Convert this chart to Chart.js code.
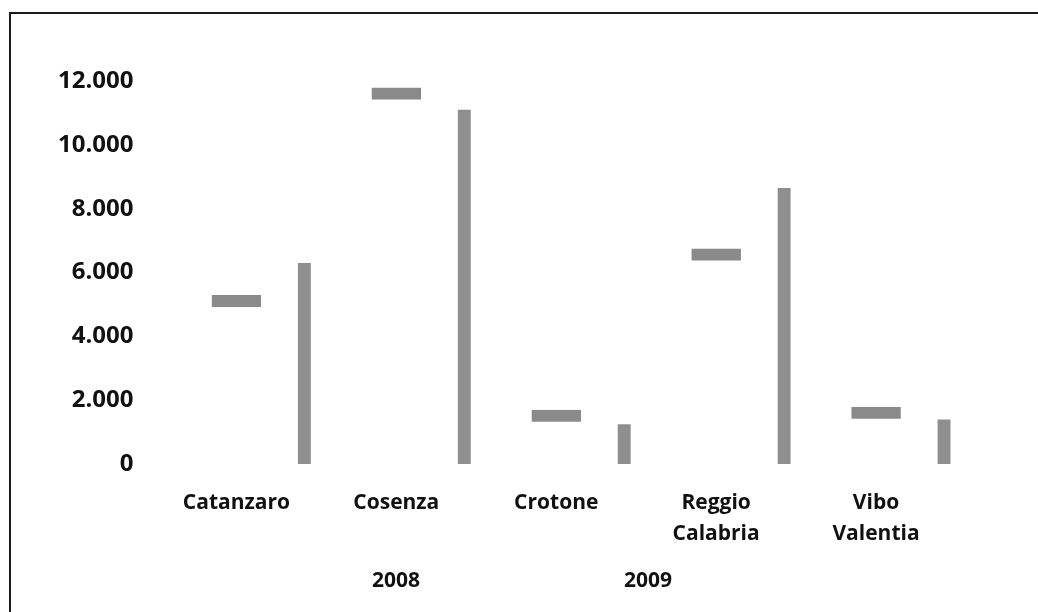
<!DOCTYPE html>
<html>
<head>
<meta charset="utf-8">
<script src="https://cdn.jsdelivr.net/npm/chart.js@4.4.1/dist/chart.umd.min.js"></script>
<style>
  html, body { margin: 0; padding: 0; background: #fff; }
  #wrap { position: relative; width: 1038px; height: 612px; }
  #frame {
    position: absolute; left: 9px; top: 12px; right: 0; bottom: 0;
    border-left: 2px solid #1a1a1a; border-top: 2px solid #1a1a1a;
    pointer-events: none;
  }
</style>
</head>
<body>
<div id="wrap">
  <canvas id="myChart"></canvas>
  <div id="frame"></div>
</div>
<script>
// Provinces (x categories)
const provinces = ['Catanzaro', 'Cosenza', 'Crotone', ['Reggio', 'Calabria'], ['Vibo', 'Valentia']];
// Series values
const values2008 = [5300, 11800, 1700, 6750, 1800];
const values2009 = [6300, 11100, 1250, 8650, 1400];
const seriesNames = ['2008', '2009'];

const fmt = v => String(v).replace(/\B(?=(\d{3})+(?!\d))/g, '.');
const xFont = { family: "'Open Sans', sans-serif", size: 21, weight: 'bold', lineHeight: 1.45 };
const yFont = { family: "'Open Sans', sans-serif", size: 24, weight: 'bold' };

// legend without swatches (they are lost in the scan), drawn under the x labels
const textLegend = {
    id: 'textLegend',
    afterDraw(chart) {
        const c = chart.ctx;
        c.save();
        c.font = "bold 21px 'Open Sans', sans-serif";
        c.fillStyle = '#111';
        c.textAlign = 'center';
        c.textBaseline = 'middle';
        const mid = chart.width / 2 + 3;
        seriesNames.forEach((name, i) => {
            c.fillText(name, mid + (i === 0 ? -126 : 126), chart.height - 31);
        });
        c.restore();
    }
};

const ctx = document.getElementById('myChart').getContext('2d');
new Chart(ctx, {
    type: 'bar',
    data: {
        labels: provinces,
        datasets: [{
            label: seriesNames[0],
            data: values2008,
            backgroundColor: 'rgba(0,0,0,0)',
            borderColor: '#8a8a8a',
            borderWidth: { top: 12, right: 0, bottom: 0, left: 0 },
            borderSkipped: false,
            barPercentage: 0.73,
            categoryPercentage: 0.85
        }, {
            label: seriesNames[1],
            data: values2009,
            backgroundColor: '#8f8f8f',
            borderWidth: 0,
            barPercentage: 0.19,
            categoryPercentage: 0.85
        }]
    },
    plugins: [textLegend],
    options: {
        responsive: true,
        maintainAspectRatio: false,
        animation: false,
        layout: { padding: { left: 1, right: 48, top: 81, bottom: 39 } },
        plugins: {
            tooltip: { enabled: false },
            legend: { display: false }
        },
        scales: {
            x: {
                grid: { display: false, drawTicks: false },
                border: { display: false },
                ticks: { color: '#111', font: xFont, padding: 24, labelOffset: -34, maxRotation: 0, autoSkip: false }
            },
            y: {
                min: 0,
                max: 12000,
                grid: { display: false, drawTicks: false },
                border: { display: false },
                ticks: { stepSize: 2000, color: '#111', font: yFont, padding: 57, callback: v => fmt(v) }
            }
        }
    }
});
</script>
</body>
</html>
